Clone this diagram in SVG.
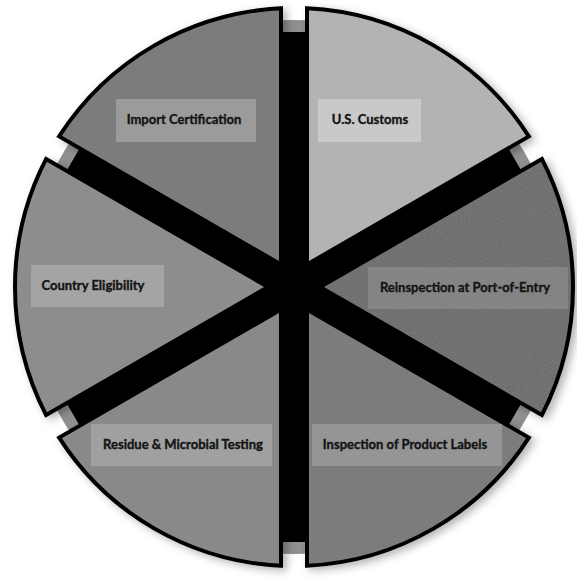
<svg xmlns="http://www.w3.org/2000/svg" width="577" height="584" viewBox="0 0 577 584">
<style>
.wedge{stroke:#000;stroke-width:4;stroke-linejoin:miter;stroke-miterlimit:10}
.box{stroke:none}
.lbl{font-family:Lato,"Open Sans","Liberation Sans",sans-serif;font-weight:700;font-size:13px;fill:#141414;stroke:#141414;stroke-width:0.35;text-anchor:middle}
.bar{fill:#000}
</style>
<defs>
<filter id="shadow" x="-10%" y="-10%" width="125%" height="125%">
<feDropShadow dx="4" dy="3" stdDeviation="4" flood-color="#000" flood-opacity="0.3"/>
</filter>
<filter id="noise" x="0" y="0" width="100%" height="100%">
<feTurbulence type="fractalNoise" baseFrequency="0.9" numOctaves="2" seed="4" result="t"/>
<feColorMatrix in="t" type="saturate" values="0" result="g"/>
<feComponentTransfer in="g" result="ga"><feFuncA type="linear" slope="0" intercept="0.2"/></feComponentTransfer>
<feComposite in="ga" in2="SourceAlpha" operator="in"/>
</filter>
</defs>
<rect width="577" height="584" fill="#fff"/>
<g id="backdrop">
<circle cx="294" cy="287" r="267" fill="#909090"/>
</g>
<g id="connectors">
<rect class="bar" x="281" y="32" width="26" height="510"/>
<rect class="bar" x="281" y="32" width="26" height="510" transform="rotate(60 294 287)"/>
<rect class="bar" x="281" y="32" width="26" height="510" transform="rotate(-60 294 287)"/>
</g>
<g id="wedges" filter="url(#shadow)">
<g id="import-certification">
<path class="wedge" fill="#7b7b7b" d="M281 264.48 L59.14 136.39 A279 279 0 0 1 281 8.3 Z"/>
</g>
<g id="us-customs">
<path class="wedge" fill="#b3b3b3" d="M307 264.48 L307 8.3 A279 279 0 0 1 528.86 136.39 Z"/>
</g>
<g id="reinspection">
<path fill="#5f5f5f" d="M320 287 L541.86 158.91 A279 279 0 0 1 541.86 415.09 Z"/>
<path fill="#5f5f5f" filter="url(#noise)" d="M320 287 L541.86 158.91 A279 279 0 0 1 541.86 415.09 Z"/>
<path class="wedge" fill="none" d="M320 287 L541.86 158.91 A279 279 0 0 1 541.86 415.09 Z"/>
</g>
<g id="inspection-labels">
<path class="wedge" fill="#7c7c7c" d="M307 309.52 L528.86 437.61 A279 279 0 0 1 307 565.7 Z"/>
</g>
<g id="residue-testing">
<path class="wedge" fill="#898989" d="M281 309.52 L281 565.7 A279 279 0 0 1 59.14 437.61 Z"/>
</g>
<g id="country-eligibility">
<path class="wedge" fill="#8d8d8d" d="M268 287 L46.14 415.09 A279 279 0 0 1 46.14 158.91 Z"/>
</g>
</g>
<g id="labels">
<g id="lbl-import"><rect class="box" x="116" y="99" width="140" height="43" fill="#9b9b9b"/><text class="lbl" x="184" y="124">Import Certification</text></g>
<g id="lbl-customs"><rect class="box" x="318" y="99" width="103" height="43" fill="#c9c9c9"/><text class="lbl" x="370" y="124">U.S. Customs</text></g>
<g id="lbl-country"><rect class="box" x="31" y="265" width="133" height="42" fill="#a4a4a4"/><text class="lbl" x="93" y="290">Country Eligibility</text></g>
<g id="lbl-reinspection"><rect class="box" x="368" y="267" width="200" height="42" fill="#848484"/><text class="lbl" x="465" y="292">Reinspection at Port-of-Entry</text></g>
<g id="lbl-residue"><rect class="box" x="91" y="424" width="181" height="42" fill="#a0a0a0"/><text class="lbl" x="183" y="449">Residue &amp; Microbial Testing</text></g>
<g id="lbl-inspection"><rect class="box" x="312" y="424" width="190" height="42" fill="#959595"/><text class="lbl" x="405" y="449">Inspection of Product Labels</text></g>
</g>
</svg>
